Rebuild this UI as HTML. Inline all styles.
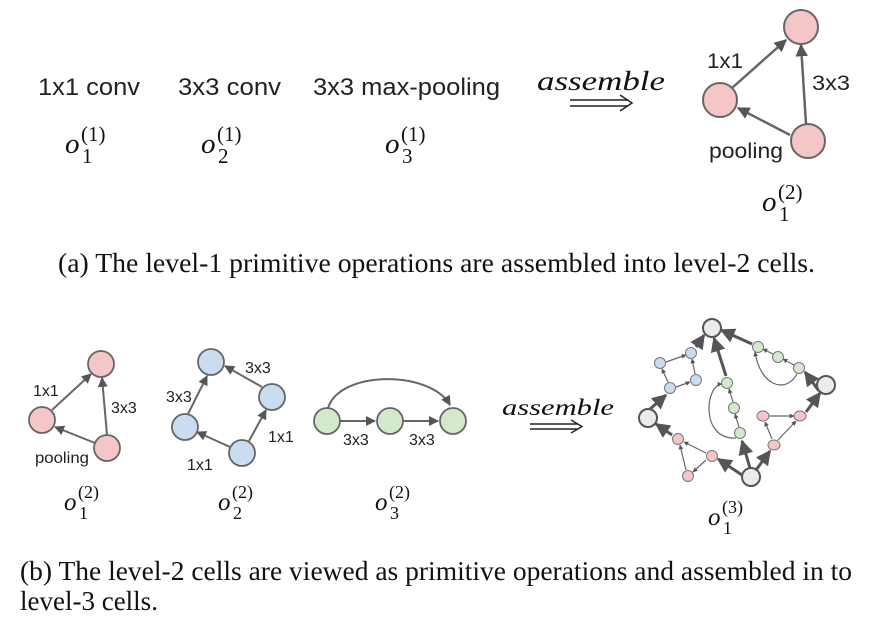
<!DOCTYPE html>
<html><head><meta charset="utf-8"><style>
body{margin:0;background:#fff;width:878px;height:635px;overflow:hidden}
svg{display:block}
.s{font-family:"Liberation Sans",sans-serif;fill:#222}
.r{font-family:"Liberation Serif",serif;fill:#111}
</style></head><body>
<svg width="878" height="635" viewBox="0 0 878 635">
<defs>
<marker id="ah" viewBox="0 0 10 10" refX="9" refY="5" markerWidth="5" markerHeight="5" orient="auto"><path d="M0,0L10,5L0,10z" fill="#555"/></marker>
<marker id="as" viewBox="0 0 10 10" refX="9" refY="5" markerWidth="4" markerHeight="4" orient="auto"><path d="M0,0L10,5L0,10z" fill="#555"/></marker>
</defs>
<g id="top">
<text class="s" x="38" y="95" font-size="24" textLength="102" lengthAdjust="spacingAndGlyphs">1x1 conv</text>
<text class="s" x="178" y="95" font-size="24" textLength="103" lengthAdjust="spacingAndGlyphs">3x3 conv</text>
<text class="s" x="313" y="95" font-size="24" textLength="187" lengthAdjust="spacingAndGlyphs">3x3 max-pooling</text>
<text class="r" x="537" y="90" font-size="27" font-style="italic" textLength="128" lengthAdjust="spacingAndGlyphs">assemble</text>
<g stroke="#222" stroke-width="1.5" fill="none"><line x1="570" y1="100" x2="628" y2="100"/><line x1="570" y1="106" x2="628" y2="106"/><path d="M620,95 L632,103 L620,111"/></g>
<g><text class="r" x="65" y="153" font-size="29" font-style="italic">o</text><text class="r" x="81" y="141" font-size="21">(1)</text><text class="r" x="82" y="163" font-size="21">1</text></g>
<g><text class="r" x="201" y="153" font-size="29" font-style="italic">o</text><text class="r" x="217" y="141" font-size="21">(1)</text><text class="r" x="218" y="163" font-size="21">2</text></g>
<g><text class="r" x="385" y="153" font-size="29" font-style="italic">o</text><text class="r" x="401" y="141" font-size="21">(1)</text><text class="r" x="402" y="163" font-size="21">3</text></g>
<g stroke="#666" stroke-width="2.5" fill="none" marker-end="url(#ah)">
<line x1="732" y1="88" x2="786" y2="40"/><line x1="806" y1="124" x2="801" y2="45"/><line x1="790" y1="135" x2="738" y2="108"/></g>
<g fill="#f4c6c8" stroke="#666" stroke-width="2">
<circle cx="801" cy="27" r="17"/><circle cx="720" cy="100" r="17"/><circle cx="808" cy="141" r="17"/></g>
<text class="s" x="707" y="68" font-size="21" textLength="36" lengthAdjust="spacingAndGlyphs">1x1</text><text class="s" x="812" y="90" font-size="21" textLength="38" lengthAdjust="spacingAndGlyphs">3x3</text><text class="s" x="709" y="158" font-size="21" textLength="74" lengthAdjust="spacingAndGlyphs">pooling</text>
<g><text class="r" x="762" y="211" font-size="29" font-style="italic">o</text><text class="r" x="778" y="199" font-size="21">(2)</text><text class="r" x="779" y="221" font-size="21">1</text></g>
<text class="r" x="58" y="272" font-size="27" textLength="757" lengthAdjust="spacingAndGlyphs">(a) The level-1 primitive operations are assembled into level-2 cells.</text>
</g>
<g>
<g stroke="#666" stroke-width="2" fill="none" marker-end="url(#ah)">
<line x1="52" y1="410" x2="91" y2="374"/><line x1="107" y1="435" x2="102" y2="378"/><line x1="95" y1="443" x2="55" y2="427"/>
<line x1="188" y1="414" x2="207" y2="376"/><line x1="262" y1="387" x2="225" y2="366"/><line x1="230" y1="447" x2="197" y2="432"/><line x1="249" y1="441" x2="266" y2="410"/>
<line x1="340" y1="421" x2="375" y2="421"/><line x1="403" y1="421" x2="438" y2="421"/><path d="M328,408 C340,370 430,370 450,405"/></g>
<g stroke="#666" stroke-width="1.8">
<g fill="#f4c6c8"><circle cx="101" cy="364" r="13"/><circle cx="42" cy="420" r="13"/><circle cx="107" cy="448" r="13"/></g>
<g fill="#c9dcf0"><circle cx="211" cy="362" r="13"/><circle cx="272" cy="397" r="13"/><circle cx="185" cy="427" r="13"/><circle cx="242" cy="453" r="13"/></g>
<g fill="#d4e8cc"><circle cx="327" cy="421" r="13"/><circle cx="390" cy="421" r="13"/><circle cx="453" cy="421" r="13"/></g></g>
<g class="s" font-size="16"><text x="33" y="396">1x1</text><text x="111" y="413">3x3</text><text x="35" y="463" textLength="54" lengthAdjust="spacingAndGlyphs">pooling</text>
<text x="166" y="402">3x3</text><text x="245" y="373">3x3</text><text x="268" y="442">1x1</text><text x="187" y="470">1x1</text>
<text x="343" y="445">3x3</text><text x="409" y="445">3x3</text></g>
<g><text class="r" x="64" y="510" font-size="25" font-style="italic">o</text><text class="r" x="78" y="498" font-size="18">(2)</text><text class="r" x="79" y="519" font-size="18">1</text></g>
<g><text class="r" x="218" y="510" font-size="25" font-style="italic">o</text><text class="r" x="232" y="498" font-size="18">(2)</text><text class="r" x="233" y="519" font-size="18">2</text></g>
<g><text class="r" x="375" y="510" font-size="25" font-style="italic">o</text><text class="r" x="389" y="498" font-size="18">(2)</text><text class="r" x="390" y="519" font-size="18">3</text></g>
<text class="r" x="502" y="415" font-size="23" font-style="italic" textLength="112" lengthAdjust="spacingAndGlyphs">assemble</text>
<g stroke="#222" stroke-width="1.4" fill="none"><line x1="530" y1="424" x2="578" y2="424"/><line x1="530" y1="429" x2="578" y2="429"/><path d="M571,420 L582,426.5 L571,433"/></g>
<g>
<g stroke="#555" stroke-width="3" fill="none" marker-end="url(#ah)">
<line x1="650" y1="409" x2="666" y2="395"/><line x1="696" y1="347" x2="704" y2="335"/>
<line x1="750" y1="468" x2="742" y2="441"/><line x1="726" y1="376" x2="714" y2="338"/>
<line x1="819" y1="391" x2="805" y2="372"/><line x1="752" y1="344" x2="721" y2="330"/>
<line x1="742" y1="475" x2="718" y2="459"/><line x1="672" y1="435" x2="656" y2="424"/>
<line x1="756" y1="470" x2="770" y2="451"/><line x1="806" y1="412" x2="820" y2="393"/></g>
<g stroke="#666" stroke-width="1.2" fill="none" marker-end="url(#as)">
<line x1="666" y1="362" x2="686" y2="355"/><line x1="676" y1="387" x2="690" y2="382"/><line x1="695" y1="374" x2="692" y2="359"/><line x1="668" y1="382" x2="662" y2="369"/>
<line x1="739" y1="427" x2="735" y2="414"/><line x1="733" y1="402" x2="729" y2="389"/><path d="M736,438 C700,440 705,385 722,384"/>
<line x1="794" y1="365" x2="783" y2="359"/><line x1="773" y1="354" x2="763" y2="349"/><path d="M797,374 C785,395 760,385 755,352"/>
<line x1="706" y1="453" x2="684" y2="442"/><line x1="706" y1="460" x2="693" y2="472"/><line x1="686" y1="470" x2="680" y2="445"/>
<line x1="772" y1="439" x2="765" y2="422"/><line x1="769" y1="416" x2="794" y2="416"/><line x1="778" y1="440" x2="796" y2="421"/></g>
<g stroke="#555" stroke-width="2" fill="#ebebeb"><circle cx="712" cy="328" r="9"/><circle cx="648" cy="418" r="9"/><circle cx="826" cy="385" r="9"/><circle cx="751" cy="477" r="9"/></g>
<g stroke="#777" stroke-width="1"><g fill="#c9dcf0"><circle cx="691" cy="353" r="5.5"/><circle cx="660" cy="363" r="5.5"/><circle cx="670" cy="388" r="5.5"/><circle cx="696" cy="380" r="5.5"/></g>
<g fill="#d4e8cc"><circle cx="758" cy="347" r="5.5"/><circle cx="778" cy="357" r="5.5"/><circle cx="799" cy="368" r="5.5"/><circle cx="727" cy="383" r="5.5"/><circle cx="734" cy="408" r="5.5"/><circle cx="740" cy="433" r="5.5"/></g>
<g fill="#f4c6c8"><circle cx="678" cy="439" r="5.5"/><circle cx="712" cy="456" r="5.5"/><circle cx="688" cy="476" r="5.5"/><ellipse cx="763" cy="416" rx="6" ry="5"/><ellipse cx="800" cy="416" rx="6" ry="5"/><ellipse cx="774" cy="445" rx="6" ry="5"/></g></g>
<g><text class="r" x="708" y="525" font-size="25" font-style="italic">o</text><text class="r" x="722" y="513" font-size="18">(3)</text><text class="r" x="723" y="534" font-size="18">1</text></g>
</g>
<text class="r" x="20" y="580" font-size="27" textLength="832" lengthAdjust="spacingAndGlyphs">(b) The level-2 cells are viewed as primitive operations and assembled in to</text>
<text class="r" x="20" y="610" font-size="27">level-3 cells.</text>
</g>
</svg>
</body></html>
